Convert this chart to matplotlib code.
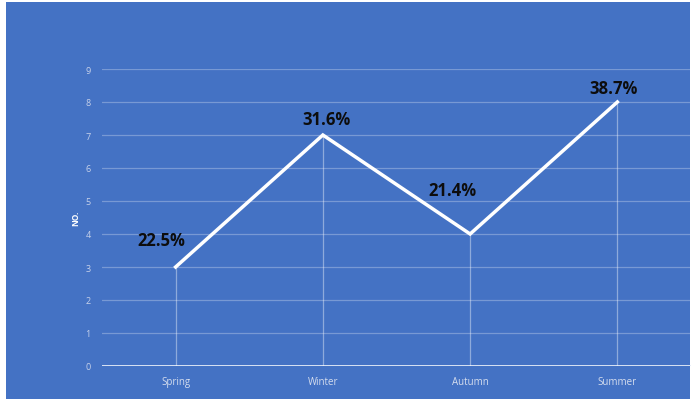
import matplotlib
matplotlib.use("Agg")
import matplotlib.pyplot as plt
from matplotlib.patches import Rectangle

seasons = ["Spring", "Winter", "Autumn", "Summer"]
values = [3, 7, 4, 8]
pct_labels = ["22.5%", "31.6%", "21.4%", "38.7%"]
label_offsets = [(-14, 27), (4, 16), (-18, 44), (-4, 14)]  # styling offsets in px

BG = "#4472C4"
plt.rcParams['font.family'] = ['Open Sans', 'DejaVu Sans']

fig = plt.figure(figsize=(6.91, 4.02), dpi=100)
fig.patch.set_facecolor("white")
fig.patches.append(Rectangle((6/691, 2/402), (684)/691, (397)/402,
                             transform=fig.transFigure, facecolor=BG,
                             edgecolor="none", zorder=-10))

ax = fig.add_axes([102/691, 35/402, (691-102)/691, (367-70)/402])
ax.set_zorder(5)
ax.set_facecolor("none")
x = list(range(len(seasons)))
ax.set_xlim(-0.5, 3.5)
ax.set_ylim(0, 9)

ax.set_yticks(range(0, 10))
ax.grid(axis="y", color="white", alpha=0.28, linewidth=0.9)
ax.set_axisbelow(True)
for s in ax.spines.values():
    s.set_visible(False)
ax.axhline(0, color="#E6ECF8", linewidth=2.0, zorder=2)

ax.vlines(x, 0, values, colors="white", alpha=0.4, linewidth=0.9, zorder=2)
ax.plot(x, values, color="white", linewidth=2.5, solid_joinstyle="miter", zorder=3)

for xi, v, lab, off in zip(x, values, pct_labels, label_offsets):
    ax.annotate(lab, (xi, v), xytext=(off[0] * 0.72, off[1] * 0.72),
                textcoords="offset points", ha="center", va="center",
                fontsize=12, fontweight="bold", color="#0D0D0D")

ax.set_xticks(x)
ax.set_xticklabels(seasons, fontsize=7, color="#D5DDEE")
ax.tick_params(axis="x", length=0, pad=7)
ax.tick_params(axis="y", length=0, pad=8, labelsize=6.5, labelcolor="#C8D2EA")
ax.set_ylabel("NO.", fontsize=6, fontweight="bold", color="white", labelpad=4)

fig.savefig("out.png", dpi=100, facecolor=fig.get_facecolor())
